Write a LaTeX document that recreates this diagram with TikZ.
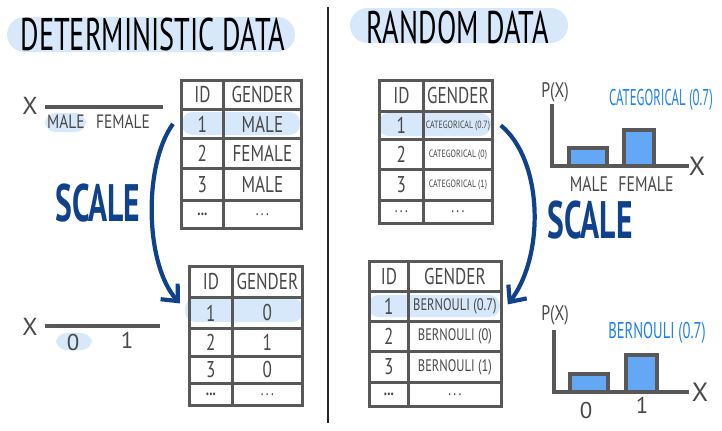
\documentclass[tikz,border=0pt]{standalone}
\usepackage{fontspec}
\setmainfont{PT Sans}
\usetikzlibrary{arrows.meta,positioning}
\definecolor{hilite}{RGB}{214,232,250}
\definecolor{deepblue}{RGB}{16,66,140}
\definecolor{barblue}{RGB}{100,168,245}
\definecolor{rule}{RGB}{88,88,88}
\definecolor{pencil}{RGB}{72,72,72}
\definecolor{skyblue}{RGB}{32,130,230}
\newcommand\squeeze[2][0.75]{\scalebox{#1}[1]{#2}}
\newcommand\tinycell{\fontsize{6}{6}\selectfont}
\newcommand\smallcell{\fontsize{9.5}{9.5}\selectfont}
\newcommand\ellip{\fontsize{10}{10}\selectfont .\,.\,.}
\newcommand\boldellip{\fontsize{10}{10}\selectfont\bfseries ...}
\tikzset{
  >={Straight Barb[length=2.6mm,width=4.6mm]},
  cell/.style={draw=rule,line width=1.6pt,inner sep=0pt,anchor=north west,
    text=pencil,font=\fontsize{13}{13}\selectfont},
  hlrow/.style={fill=hilite,rounded corners=6pt},
  title/.style={font=\fontsize{26}{26}\selectfont,text=black},
  axis/.style={draw=rule,line width=2pt},
  axlabel/.style={text=pencil,font=\fontsize{11}{11}\selectfont,inner sep=1pt},
  bar/.style={draw=rule,fill=barblue,line width=2pt},
  distname/.style={text=skyblue,font=\fontsize{13}{13}\selectfont},
  scaletag/.style={text=deepblue,font=\fontsize{30}{30}\selectfont\bfseries},
  scalearrow/.style={->,draw=deepblue,line width=2.4pt},
}
\begin{document}
\begin{tikzpicture}[x=0.02cm,y=-0.02cm]
  \useasboundingbox (0,0) rectangle (722,430);
  % titles
  \fill[hilite,rounded corners=10pt] (7,17) rectangle (295,52);
  \fill[hilite,rounded corners=10pt] (350,8) rectangle (568,43);
  \node[title] (dtitle) at (153,35) {\squeeze[0.62]{DETERMINISTIC DATA}};
  \node[title] (rtitle) at (458,28) {\squeeze[0.62]{RANDOM DATA}};
  \draw[line width=1.2pt,black!85] (328,7) -- (328,423);

  % highlighted rows
  \fill[hlrow] (182,112) rectangle (300,135);
  \fill[hlrow] (185,298) rectangle (303,322);
  \fill[hlrow] (378,113) rectangle (491,136);
  \fill[hlrow] (368,295) rectangle (500,317);
  \fill[hlrow] (45,113) rectangle (86,132);
  \fill[hlrow] (56,333) rectangle (92,350);

  % deterministic tables
  \foreach \r/\ya/\yb/\id/\val in {0/79/108/ID/GENDER,1/108/137/1/MALE,2/137/167/2/FEMALE,3/167/199/3/MALE,4/199/227/\boldellip/\ellip}{
    \node[cell,minimum width=0.84cm,minimum height={(\yb-\ya)*0.02cm}] (lt\r id) at (180,\ya) {\squeeze{\id}};
    \node[cell,minimum width=1.56cm,minimum height={(\yb-\ya)*0.02cm}] (lt\r val) at (222,\ya) {\squeeze{\val}};
  }
  \foreach \r/\ya/\yb/\id/\val in {0/265/296/ID/GENDER,1/296/327/1/0,2/327/355/2/1,3/355/382/3/0,4/382/404/\boldellip/\ellip}{
    \node[cell,minimum width=0.86cm,minimum height={(\yb-\ya)*0.02cm}] (lb\r id) at (188,\ya) {\squeeze{\id}};
    \node[cell,minimum width=1.40cm,minimum height={(\yb-\ya)*0.02cm}] (lb\r val) at (231,\ya) {\squeeze{\val}};
  }
  % random tables
  \foreach \r/\ya/\yb/\id/\val in {0/79/110/ID/GENDER,1/110/138/1/{\tinycell CATEGORICAL (0.7)},2/138/168/2/{\tinycell CATEGORICAL (0)},3/168/199/3/{\tinycell CATEGORICAL (1)},4/199/222/\ellip/\ellip}{
    \node[cell,minimum width=0.88cm,minimum height={(\yb-\ya)*0.02cm}] (rt\r id) at (378,\ya) {\squeeze{\id}};
    \node[cell,minimum width=1.38cm,minimum height={(\yb-\ya)*0.02cm}] (rt\r val) at (422,\ya) {\squeeze{\val}};
  }
  \foreach \r/\ya/\yb/\id/\val in {0/260/290/ID/GENDER,1/290/320/1/{\smallcell BERNOULI (0.7)},2/320/350/2/{\smallcell BERNOULI (0)},3/350/381/3/{\smallcell BERNOULI (1)},4/381/405/\boldellip/\ellip}{
    \node[cell,minimum width=0.78cm,minimum height={(\yb-\ya)*0.02cm}] (rb\r id) at (368,\ya) {\squeeze{\id}};
    \node[cell,minimum width=1.86cm,minimum height={(\yb-\ya)*0.02cm}] (rb\r val) at (407,\ya) {\squeeze{\val}};
  }

  % value axes
  \node[axlabel,font=\fontsize{14}{14}\selectfont] (xtop) at (30,106) {X};
  \coordinate (xtopend) at (163,107);
  \draw[axis] ([xshift=0.1cm]xtop.east |- xtopend) -- (xtopend);
  \node[axlabel] (male) at (66,122) {\squeeze[0.8]{MALE}};
  \node[axlabel] (female) at (123,122) {\squeeze[0.8]{FEMALE}};
  \node[axlabel,font=\fontsize{14}{14}\selectfont] (xbot) at (30,327) {X};
  \coordinate (xbotend) at (160,326);
  \draw[axis] ([xshift=0.1cm]xbot.east |- xbotend) -- (xbotend);
  \node[axlabel,font=\fontsize{13}{13}\selectfont] (zero) at (73,342) {0};
  \node[axlabel,font=\fontsize{13}{13}\selectfont] (one) at (127,340) {1};

  % scale arrows
  \node[scaletag] (lscale) at (98,203) {\squeeze[0.6]{SCALE}};
  \node[scaletag] (rscale) at (590,220) {\squeeze[0.6]{SCALE}};
  \draw[scalearrow] ([xshift=-0.14cm]lt1id.west) .. controls (143,165) and (145,265) .. ([xshift=-0.16cm,yshift=0.19cm]lb1id.west);
  \draw[scalearrow] ([xshift=0.14cm]rt1val.east) .. controls (543,160) and (545,255) .. ([xshift=0.1cm,yshift=0.04cm]rb1val.east);

  % categorical chart
  \node[axlabel,font=\fontsize{12}{12}\selectfont] (cpx) at (555,92) {\squeeze{P(X)}};
  \coordinate (ctop) at (552,104);
  \coordinate (corig) at (552,166);
  \coordinate (cend) at (689,166);
  \draw[bar] (569,148) rectangle (607,166);
  \draw[bar] (624,130) rectangle (654,166);
  \draw[axis] (ctop) -- (corig) -- (cend);
  \node[axlabel,font=\fontsize{15}{15}\selectfont] (cx) at (697,166) {X};
  \node[axlabel,font=\fontsize{12}{12}\selectfont] (cmale) at (589,184) {\squeeze{MALE}};
  \node[axlabel,font=\fontsize{12}{12}\selectfont] (cfemale) at (646,184) {\squeeze{FEMALE}};
  \node[distname] (catname) at (661,100) {\squeeze[0.56]{CATEGORICAL (0.7)}};

  % bernoulli chart
  \node[axlabel,font=\fontsize{12}{12}\selectfont] (bpx) at (555,315) {\squeeze{P(X)}};
  \coordinate (btop) at (554,330);
  \coordinate (borig) at (554,392);
  \coordinate (bend) at (689,392);
  \draw[bar] (570,374) rectangle (608,392);
  \draw[bar] (626,355) rectangle (657,392);
  \draw[axis] (btop) -- (borig) -- (bend);
  \node[axlabel,font=\fontsize{15}{15}\selectfont] (bx) at (700,392) {X};
  \node[axlabel,font=\fontsize{13}{13}\selectfont] (bzero) at (586,410) {0};
  \node[axlabel,font=\fontsize{13}{13}\selectfont] (bone) at (642,405) {1};
  \node[distname] (bername) at (657,333) {\squeeze[0.64]{BERNOULI (0.7)}};
\end{tikzpicture}
\end{document}
